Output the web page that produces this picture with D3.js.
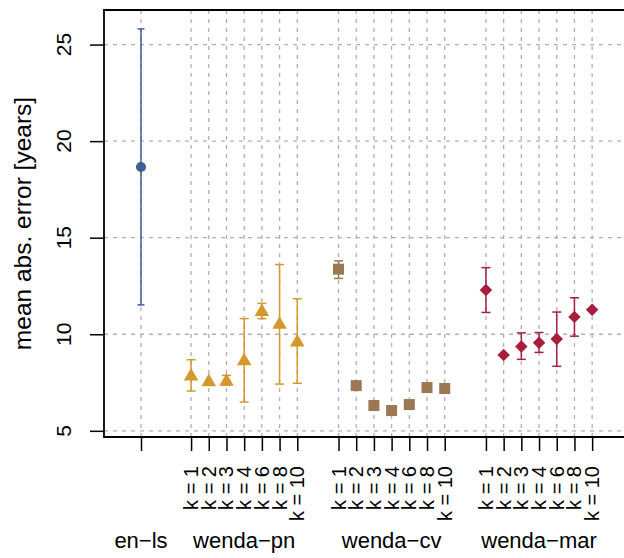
<!DOCTYPE html>
<html>
<head>
<meta charset="utf-8">
<script src="https://cdn.jsdelivr.net/npm/d3@7"></script>
<style>
  body { margin: 0; background: #fff; }
  text { font-family: "Liberation Sans", Arial, sans-serif; fill: #000; }
</style>
</head>
<body>
<div id="chart"></div>
<script>
// Data
const groups = ["en\u2212ls", "wenda\u2212pn", "wenda\u2212cv", "wenda\u2212mar"];
const kValues = [1, 2, 3, 4, 6, 8, 10];
const yTicks = [5, 10, 15, 20, 25];

const enlsMean = [18.66];
const enlsLow = [11.52];
const enlsHigh = [25.81];

const pnMean = [7.82, 7.53, 7.55, 8.61, 11.16, 10.50, 9.58];
const pnLow = [7.06, null, 7.36, 6.49, 10.81, 7.42, 7.46];
const pnHigh = [8.68, null, 7.87, 10.81, 11.60, 13.61, 11.84];

const cvMean = [13.37, 7.34, 6.31, 6.05, 6.36, 7.24, 7.19];
const cvLow = [12.89, null, null, null, null, null, null];
const cvHigh = [13.80, null, null, null, null, null, null];

const marMean = [12.29, 8.92, 9.37, 9.56, 9.76, 10.90, 11.27];
const marLow = [11.13, null, 8.70, 9.06, 8.34, 9.90, null];
const marHigh = [13.45, null, 10.07, 10.09, 11.15, 11.89, null];

const colors = ["#3e5e94", "#d4982c", "#9c7753", "#a71d3e"];

const W = 624, H = 558;
const plotLeft = 104, plotTop = 10, plotBottom = 437;

// slot positions: en-ls alone, then three groups of k values
const firstGap = 2.83, groupGap = 2.33;
const series = [];
series.push({ g: 0, pts: [{ pos: 0, m: enlsMean[0], lo: enlsLow[0], hi: enlsHigh[0], label: null }] });
let start = firstGap;
[[pnMean, pnLow, pnHigh], [cvMean, cvLow, cvHigh], [marMean, marLow, marHigh]].forEach((arr, gi) => {
    const pts = kValues.map((k, i) => ({ pos: start + i, m: arr[0][i], lo: arr[1][i], hi: arr[2][i], label: `k = ${k}` }));
    series.push({ g: gi + 1, pts });
    start += kValues.length - 1 + groupGap;
});

const x = d3.scaleLinear().domain([-2.09, 27.29]).range([plotLeft, W]);
const y = d3.scaleLinear().domain([4.68, 26.79]).range([plotBottom, plotTop]);

const svg = d3.select("#chart").append("svg")
    .attr("width", W).attr("height", H);

const allPts = series.flatMap(s => s.pts);

// grid
svg.append("g").selectAll("line").data(yTicks).join("line")
    .attr("x1", plotLeft).attr("x2", W)
    .attr("y1", d => y(d)).attr("y2", d => y(d))
    .attr("stroke", "#b0b0b0").attr("stroke-dasharray", "4,5").attr("stroke-width", 1.3);
svg.append("g").selectAll("line").data(allPts).join("line")
    .attr("x1", d => x(d.pos)).attr("x2", d => x(d.pos))
    .attr("y1", plotTop).attr("y2", plotBottom)
    .attr("stroke", "#b0b0b0").attr("stroke-dasharray", "4,5").attr("stroke-width", 1.3);

// box (open on the right, as cropped in the reference)
svg.append("path")
    .attr("d", `M${W},${plotTop}H${plotLeft}V${plotBottom}H${W}`)
    .attr("fill", "none").attr("stroke", "#000").attr("stroke-width", 1.8);

// y axis
const yAxis = svg.append("g").attr("transform", `translate(${plotLeft},0)`)
    .call(d3.axisLeft(y).tickValues(yTicks).tickSize(14).tickFormat(""));
yAxis.select(".domain").remove();
yAxis.selectAll(".tick line").attr("stroke-width", 1.5);
svg.append("g").selectAll("text").data(yTicks).join("text")
    .attr("transform", d => `translate(71,${y(d)}) rotate(-90)`)
    .attr("text-anchor", "middle")
    .style("font-size", "21px")
    .text(d => d);

svg.append("text")
    .attr("transform", `translate(31,${(plotTop + plotBottom) / 2}) rotate(-90)`)
    .attr("text-anchor", "middle")
    .style("font-size", "24.5px")
    .text("mean abs. error [years]");

// x axis
const xAxis = svg.append("g").attr("transform", `translate(0,${plotBottom})`)
    .call(d3.axisBottom(x).tickValues(allPts.map(d => d.pos)).tickSize(14).tickFormat(""));
xAxis.select(".domain").remove();
xAxis.selectAll(".tick line").attr("stroke-width", 1.5);

svg.append("g").selectAll("text").data(allPts.filter(d => d.label)).join("text")
    .attr("transform", d => `translate(${x(d.pos)},466) rotate(-90)`)
    .attr("text-anchor", "end")
    .attr("dy", "0.35em")
    .style("font-size", "20px")
    .text(d => d.label);

svg.append("g").selectAll("text").data(series).join("text")
    .attr("x", d => (x(d.pts[0].pos) + x(d.pts[d.pts.length - 1].pos)) / 2)
    .attr("y", 548)
    .attr("text-anchor", "middle")
    .style("font-size", "22px")
    .text(d => groups[d.g]);

// error bars and markers
const shapes = [
    { type: d3.symbolCircle, size: 80, rot: 0 },
    { type: d3.symbolTriangle, size: 92, rot: 0 },
    { type: d3.symbolSquare, size: 121, rot: 0 },
    { type: d3.symbolSquare, size: 78, rot: 45 }
];

series.forEach(s => {
    const c = colors[s.g];
    const g = svg.append("g");
    const bars = s.pts.filter(d => d.lo != null);
    const capW = s.g === 0 ? 7 : 9;
    g.selectAll(".bar").data(bars).join("line")
        .attr("x1", d => x(d.pos)).attr("x2", d => x(d.pos))
        .attr("y1", d => y(d.lo)).attr("y2", d => y(d.hi))
        .attr("stroke", c).attr("stroke-width", 1.5);
    ["lo", "hi"].forEach(key => {
        g.selectAll(".cap-" + key).data(bars).join("line")
            .attr("class", "cap-" + key)
            .attr("x1", d => x(d.pos) - capW / 2).attr("x2", d => x(d.pos) + capW / 2)
            .attr("y1", d => y(d[key])).attr("y2", d => y(d[key]))
            .attr("stroke", c).attr("stroke-width", 1.5);
    });
    const sh = shapes[s.g];
    g.selectAll("path").data(s.pts).join("path")
        .attr("d", d3.symbol().type(sh.type).size(sh.size)())
        .attr("transform", d => `translate(${x(d.pos)},${y(d.m)}) rotate(${sh.rot})`)
        .attr("fill", c);
});
</script>
</body>
</html>
